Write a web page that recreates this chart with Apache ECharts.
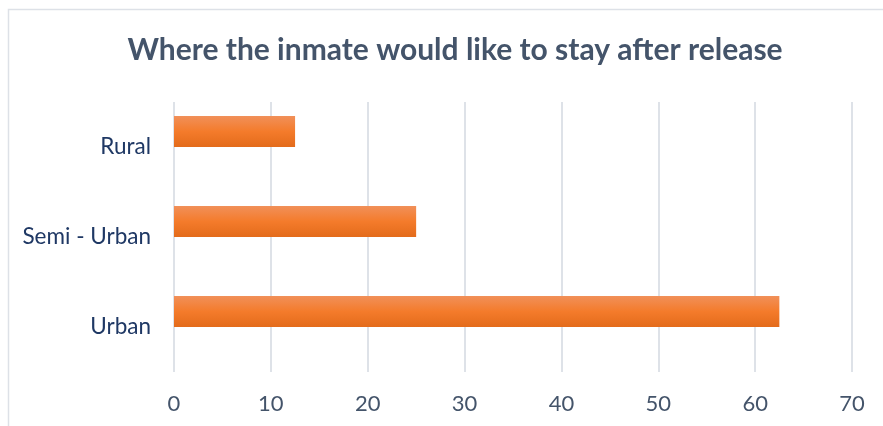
<!DOCTYPE html>
<html>
<head>
<meta charset="utf-8">
<script src="https://cdn.jsdelivr.net/npm/echarts@6/dist/echarts.min.js"></script>
<style>
  html, body { margin: 0; padding: 0; background: #ffffff; }
  #chart { width: 883px; height: 426px; }
</style>
</head>
<body>
<div id="chart"></div>
<script>
// Preferred place to live after release
const categories = ['Urban', 'Semi - Urban', 'Rural'];
const shares = [62.5, 25, 12.5];
// second (empty) slot of each cluster
const spareSlot = [null, null, null];
const xTicks = { min: 0, max: 70, interval: 10 };

const chart = echarts.init(document.getElementById('chart'), null, { renderer: 'canvas' });

const barFill = new echarts.graphic.LinearGradient(0, 0, 0, 1, [
  { offset: 0, color: '#F19059' },
  { offset: 0.5, color: '#F47B2B' },
  { offset: 1, color: '#E36B1B' }
]);

chart.setOption({
  animation: false,
  backgroundColor: '#ffffff',
  graphic: [{
    type: 'rect',
    shape: { x: 8.5, y: 9.5, width: 900, height: 500 },
    style: { fill: 'none', stroke: '#DDE1E7', lineWidth: 1.5 },
    silent: true
  }],
  title: {
    text: 'Where the inmate would like to stay after release',
    left: 450,
    textAlign: 'center',
    top: 30,
    textStyle: {
      fontFamily: 'Lato',
      fontWeight: 'bold',
      fontSize: 30,
      color: '#44546A'
    }
  },
  grid: { left: 174, right: 31, top: 102, bottom: 54 },
  xAxis: {
    type: 'value',
    min: xTicks.min,
    max: xTicks.max,
    interval: xTicks.interval,
    axisLine: { show: false },
    axisTick: { show: false },
    axisLabel: {
      margin: 21,
      fontFamily: 'Lato',
      fontSize: 22,
      color: '#44546A'
    },
    splitLine: { lineStyle: { color: '#DEE2E8', width: 2 } }
  },
  yAxis: {
    type: 'category',
    data: categories,
    axisLine: { show: false },
    axisTick: { show: false },
    axisLabel: {
      margin: 23,
      fontFamily: 'Lato',
      fontSize: 22.5,
      color: '#1F3864'
    }
  },
  series: [{
    name: 'Share',
    type: 'bar',
    data: shares,
    barWidth: 31,
    barGap: '0%',
    itemStyle: { color: barFill }
  }, {
    name: 'Spare',
    type: 'bar',
    data: spareSlot,
    barWidth: 31
  }]
});
</script>
</body>
</html>
